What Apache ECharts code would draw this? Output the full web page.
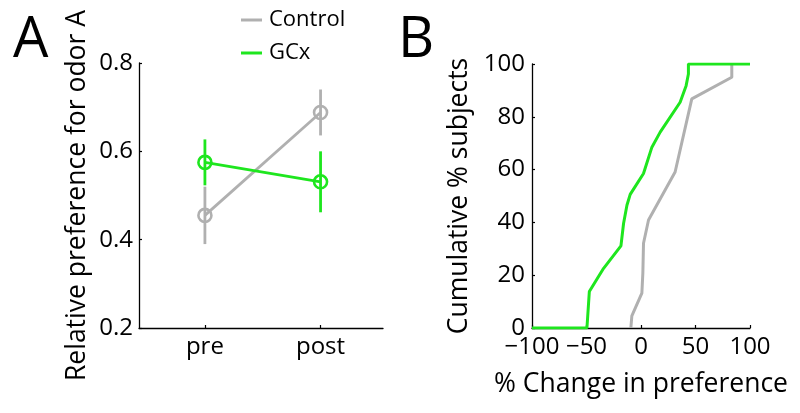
<!DOCTYPE html>
<html><head><meta charset="utf-8">
<script src="https://cdn.jsdelivr.net/npm/echarts@6/dist/echarts.min.js"></script>
<style>html,body{margin:0;padding:0;background:#fff}#c{width:800px;height:413px}</style>
</head><body><div id="c"></div>
<script>
// ---- data ----
const groups = ['Control', 'GCx'];
const phaseLabels = ['pre', 'post'];
const phasePos = [1, 2];
const controlMean = [0.455, 0.688];
const controlErr = [0.065, 0.052];
const gcxMean = [0.575, 0.531];
const gcxErr = [0.052, 0.069];
// cumulative distributions (% change in preference, cumulative % subjects)
const ctrlChangeX = [-9.3, -8.4, 0.8, 1.7, 2.3, 6.9, 31.3, 46.6, 83.3, 83.3];
const ctrlCumY    = [0, 4.6, 13.2, 20.8, 32.1, 40.9, 59.1, 86.8, 95, 100];
const gcxChangeX  = [-100, -49.6, -47.4, -34.3, -18.4, -16, -12.9, -9.9, 2.3, 10, 17.6, 35.9, 41.4, 43.5, 43.5, 100];
const gcxCumY     = [0, 0, 13.8, 22.6, 31.1, 39.6, 46.5, 50.6, 58.5, 68.5, 74.2, 85.5, 91.8, 96.2, 100, 100];
const yTicksA = [0.2, 0.4, 0.6, 0.8];
const xTicksB = [-100, -50, 0, 50, 100];
const yTicksB = [0, 20, 40, 60, 80, 100];

// ---- style ----
const GREY = '#b0b0b0';
const GREEN = '#1ee61e';
const FONT = 'Open Sans';
const axisLine = {show: true, onZero: false, lineStyle: {color: '#000', width: 1.3}};
const axisTick = {show: true, inside: true, length: 3, lineStyle: {color: '#000', width: 1.2}};
const labelStyle = {color: '#000', fontSize: 24, fontFamily: FONT};
const nameStyle = {color: '#000', fontSize: 26.5, fontFamily: FONT};

function errSeries(name, mean, err, color) {
  return {
    type: 'custom', name: name, xAxisIndex: 0, yAxisIndex: 0, silent: true,
    data: phasePos.map((p, i) => [p, mean[i] - err[i], mean[i] + err[i]]),
    encode: {x: 0, y: [1, 2]},
    renderItem: function (params, api) {
      const a = api.coord([api.value(0), api.value(1)]);
      const b = api.coord([api.value(0), api.value(2)]);
      return {type: 'line', shape: {x1: a[0], y1: a[1], x2: b[0], y2: b[1]},
              style: {stroke: color, lineWidth: 2.8}};
    }
  };
}
function meanSeries(name, mean, color) {
  return {
    type: 'line', name: name, xAxisIndex: 0, yAxisIndex: 0,
    data: phasePos.map((p, i) => [p, mean[i]]),
    symbol: 'circle', symbolSize: 13,
    itemStyle: {color: 'rgba(0,0,0,0)', borderColor: color, borderWidth: 2.6},
    lineStyle: {color: color, width: 2.8}
  };
}
function cdfSeries(name, xs, ys, color) {
  return {
    type: 'line', name: name, xAxisIndex: 1, yAxisIndex: 1, showSymbol: false, symbol: 'none',
    data: xs.map((x, i) => [x, ys[i]]),
    lineStyle: {color: color, width: 3}
  };
}

const chart = echarts.init(document.getElementById('c'), null, {renderer: 'canvas'});
chart.setOption({
  animation: false,
  backgroundColor: '#fff',
  title: [
    {text: 'A', left: 8, top: 8, textStyle: {fontSize: 56, fontWeight: 'normal', color: '#000', fontFamily: FONT}},
    {text: 'B', left: 393, top: 8, textStyle: {fontSize: 56, fontWeight: 'normal', color: '#000', fontFamily: FONT}}
  ],
  legend: {
    orient: 'vertical', left: 236, top: 4, itemWidth: 21, itemHeight: 3, itemGap: 11,
    data: [
      {name: groups[0], icon: 'rect', itemStyle: {color: GREY, borderWidth: 0}},
      {name: groups[1], icon: 'rect', itemStyle: {color: GREEN, borderWidth: 0}}
    ],
    textStyle: {color: '#000', fontSize: 22, fontFamily: FONT, padding: [0, 0, 0, 2]}
  },
  grid: [
    {left: 139, top: 63, width: 244, height: 265},
    {left: 532, top: 64, width: 218, height: 264}
  ],
  xAxis: [
    {gridIndex: 0, type: 'value', min: 0.43, max: 2.54, axisLine: axisLine,
     axisTick: Object.assign({}, axisTick, {customValues: phasePos}),
     axisLabel: Object.assign({}, labelStyle, {margin: 7, customValues: phasePos,
       formatter: v => phaseLabels[phasePos.indexOf(Math.round(v))] || ''}),
     splitLine: {show: false}},
    {gridIndex: 1, type: 'value', min: xTicksB[0], max: xTicksB[xTicksB.length - 1], interval: 50,
     axisLine: axisLine, axisTick: axisTick,
     axisLabel: Object.assign({}, labelStyle, {margin: 7, formatter: v => String(v).replace('-', '\u2212')}),
     splitLine: {show: false},
     name: '% Change in preference', nameLocation: 'middle', nameGap: 43, nameTextStyle: nameStyle}
  ],
  yAxis: [
    {gridIndex: 0, type: 'value', min: yTicksA[0], max: yTicksA[yTicksA.length - 1], interval: 0.2,
     axisLine: axisLine, axisTick: axisTick,
     axisLabel: Object.assign({}, labelStyle, {margin: 6, formatter: v => v.toFixed(1)}),
     splitLine: {show: false},
     name: 'Relative preference for odor A', nameLocation: 'middle', nameGap: 48, nameTextStyle: nameStyle},
    {gridIndex: 1, type: 'value', min: yTicksB[0], max: yTicksB[yTicksB.length - 1], interval: 20,
     axisLine: axisLine, axisTick: axisTick,
     axisLabel: Object.assign({}, labelStyle, {margin: 7}),
     splitLine: {show: false},
     name: 'Cumulative % subjects', nameLocation: 'middle', nameGap: 59, nameTextStyle: nameStyle}
  ],
  series: [
    errSeries('Control err', controlMean, controlErr, GREY),
    meanSeries(groups[0], controlMean, GREY),
    errSeries('GCx err', gcxMean, gcxErr, GREEN),
    meanSeries(groups[1], gcxMean, GREEN),
    cdfSeries('Control cdf', ctrlChangeX, ctrlCumY, GREY),
    cdfSeries('GCx cdf', gcxChangeX, gcxCumY, GREEN)
  ]
});
</script>
</body></html>
